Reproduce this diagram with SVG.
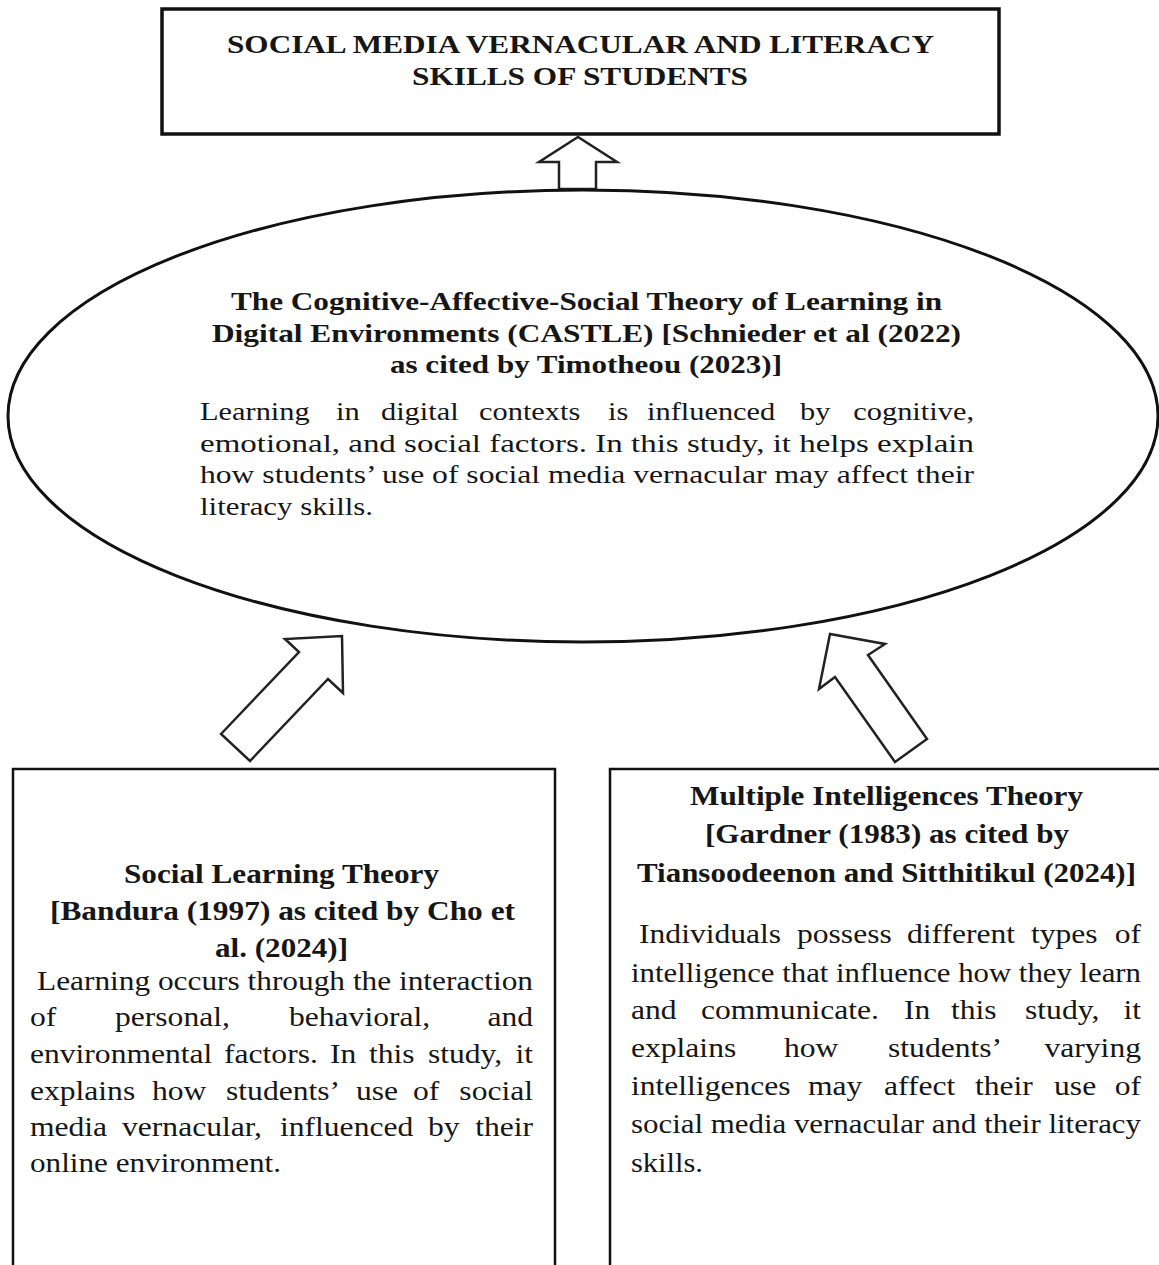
<svg xmlns="http://www.w3.org/2000/svg" width="1159" height="1265" viewBox="0 0 1159 1265">
<style>
text{font-family:"Liberation Serif","Times New Roman",serif;fill:#161616}
.h{font-weight:bold}
.t{font-size:25px}
.e{font-size:26px}
.k{font-size:27px}
.sx{transform:scale(1.17,1)}
.shape{fill:#fff;stroke:#111}
.arrow{fill:#fff;stroke:#222;stroke-width:2.5;stroke-linejoin:miter}
</style>
<rect width="1159" height="1265" fill="#fff"/>
<g id="connectors">
<polygon class="arrow" points="559,189 559,162 539,162 578,137 617,162 596,162 596,189"/>
<polygon class="arrow" points="221,734 299,652 285,639 342,636 343,693 328,679 250,761"/>
<polygon class="arrow" points="895,762 835,677 819,689 830,634 885,644 868,655 927,739"/>
</g>
<g id="node-outcome">
<rect class="shape" x="162" y="9" width="837" height="125" stroke-width="3.5"/>
<text class="h t" x="227" y="53" textLength="707" lengthAdjust="spacingAndGlyphs">SOCIAL MEDIA VERNACULAR AND LITERACY</text>
<text class="h t" x="412" y="85" textLength="336" lengthAdjust="spacingAndGlyphs">SKILLS OF STUDENTS</text>
</g>
<g id="node-castle">
<ellipse class="shape" cx="583" cy="416" rx="575" ry="226" stroke-width="3"/>
<text class="h e" x="231" y="310" textLength="711" lengthAdjust="spacingAndGlyphs">The Cognitive-Affective-Social Theory of Learning in</text>
<text class="h e" x="212" y="342" textLength="749" lengthAdjust="spacingAndGlyphs">Digital Environments (CASTLE) [Schnieder et al (2022)</text>
<text class="h e" x="390" y="373" textLength="392" lengthAdjust="spacingAndGlyphs">as cited by Timotheou (2023)]</text>
<text class="e sx" y="420"><tspan x="170.9">Learning</tspan><tspan x="287.2">in</tspan><tspan x="325.6">digital</tspan><tspan x="409.4">contexts</tspan><tspan x="519.7">is</tspan><tspan x="553">influenced</tspan><tspan x="683.8">by</tspan><tspan x="832.5" text-anchor="end">cognitive,</tspan></text>
<text class="e" x="200" y="452" textLength="774" lengthAdjust="spacingAndGlyphs">emotional, and social factors. In this study, it helps explain</text>
<text class="e" x="200" y="483" textLength="774" lengthAdjust="spacingAndGlyphs">how students’ use of social media vernacular may affect their</text>
<text class="e" x="200" y="515" textLength="173" lengthAdjust="spacingAndGlyphs">literacy skills.</text>
</g>
<g id="node-social-learning">
<path class="shape" d="M13,1265 V769 H555 V1265" stroke-width="2.5"/>
<text class="h k" x="124" y="883" textLength="315" lengthAdjust="spacingAndGlyphs">Social Learning Theory</text>
<text class="h k" x="50" y="920" textLength="465" lengthAdjust="spacingAndGlyphs">[Bandura (1997) as cited by Cho et</text>
<text class="h k" x="215" y="957" textLength="133" lengthAdjust="spacingAndGlyphs">al. (2024)]</text>
<text class="k" x="37" y="990" textLength="496" lengthAdjust="spacingAndGlyphs">Learning occurs through the interaction</text>
<text class="k sx" y="1026"><tspan x="25.6">of</tspan><tspan x="98.3">personal,</tspan><tspan x="247">behavioral,</tspan><tspan x="455.6" text-anchor="end">and</tspan></text>
<text class="k sx" y="1063"><tspan x="25.6">environmental</tspan><tspan x="191.5">factors.</tspan><tspan x="282.1">In</tspan><tspan x="315.4">this</tspan><tspan x="365.8">study,</tspan><tspan x="455.6" text-anchor="end">it</tspan></text>
<text class="k sx" y="1100"><tspan x="25.6">explains</tspan><tspan x="129.9">how</tspan><tspan x="193.2">students’</tspan><tspan x="304.3">use</tspan><tspan x="353">of</tspan><tspan x="455.6" text-anchor="end">social</tspan></text>
<text class="k sx" y="1136"><tspan x="25.6">media</tspan><tspan x="104.3">vernacular,</tspan><tspan x="239.3">influenced</tspan><tspan x="365.8">by</tspan><tspan x="455.6" text-anchor="end">their</tspan></text>
<text class="k" x="30" y="1172" textLength="251" lengthAdjust="spacingAndGlyphs">online environment.</text>
</g>
<g id="node-multiple-intelligences">
<path class="shape" d="M610,1265 V769 H1162" stroke-width="2.5"/>
<text class="h k" x="690" y="805" textLength="393" lengthAdjust="spacingAndGlyphs">Multiple Intelligences Theory</text>
<text class="h k" x="705" y="843" textLength="364" lengthAdjust="spacingAndGlyphs">[Gardner (1983) as cited by</text>
<text class="h k" x="637" y="882" textLength="499" lengthAdjust="spacingAndGlyphs">Tiansoodeenon and Sitthitikul (2024)]</text>
<text class="k sx" y="943"><tspan x="546.2">Individuals</tspan><tspan x="681.2">possess</tspan><tspan x="775.2">different</tspan><tspan x="881.2">types</tspan><tspan x="975.2" text-anchor="end">of</tspan></text>
<text class="k" x="631" y="982" textLength="510" lengthAdjust="spacingAndGlyphs">intelligence that influence how they learn</text>
<text class="k sx" y="1019"><tspan x="539.3">and</tspan><tspan x="599.1">communicate.</tspan><tspan x="772.6">In</tspan><tspan x="812.8">this</tspan><tspan x="876.1">study,</tspan><tspan x="975.2" text-anchor="end">it</tspan></text>
<text class="k sx" y="1057"><tspan x="539.3">explains</tspan><tspan x="670.1">how</tspan><tspan x="759">students’</tspan><tspan x="975.2" text-anchor="end">varying</tspan></text>
<text class="k sx" y="1095"><tspan x="539.3">intelligences</tspan><tspan x="690.6">may</tspan><tspan x="755.6">affect</tspan><tspan x="833.3">their</tspan><tspan x="900.9">use</tspan><tspan x="975.2" text-anchor="end">of</tspan></text>
<text class="k" x="631" y="1133" textLength="510" lengthAdjust="spacingAndGlyphs">social media vernacular and their literacy</text>
<text class="k" x="631" y="1172" textLength="72" lengthAdjust="spacingAndGlyphs">skills.</text>
</g>
</svg>
